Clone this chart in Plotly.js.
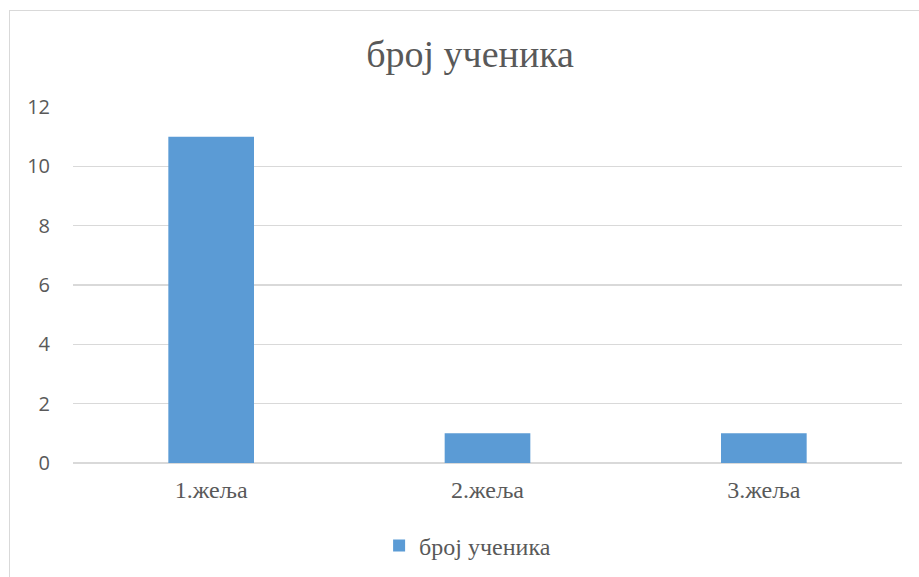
<!DOCTYPE html>
<html>
<head>
<meta charset="utf-8">
<script src="https://cdn.plot.ly/plotly-3.0.1.min.js"></script>
<style>
html,body{margin:0;padding:0;background:#fff;}
#wrap{position:relative;width:919px;height:577px;overflow:hidden;}
#chart{position:absolute;left:0;top:0;width:919px;height:577px;}
#frame{position:absolute;left:9px;top:10px;width:940px;height:600px;border-left:1px solid #d9d9d9;border-top:1px solid #d9d9d9;pointer-events:none;}
</style>
</head>
<body>
<div id="wrap"><div id="chart"></div><div id="frame"></div></div>
<script>
const categories = ["1.жеља", "2.жеља", "3.жеља"];
const values = [11, 1, 1];
const seriesName = "број ученика";
const yTicks = [0, 2, 4, 6, 8, 10, 12];

const SERIF = "Liberation Serif";
const SANS = "Open Sans";

const trace = {
  type: "bar",
  x: categories,
  y: values,
  name: seriesName,
  marker: {color: "#5B9BD5"},
  showlegend: true,
  hoverinfo: "x+y"
};

const layout = {
  width: 919, height: 577,
  margin: {l: 73, r: 17, t: 107, b: 114, autoexpand: false},
  paper_bgcolor: "#ffffff",
  plot_bgcolor: "#ffffff",
  bargap: 0.69,
  title: {
    text: "број ученика",
    font: {family: SERIF, size: 38, color: "#595959"},
    x: 0.479, xanchor: "center", xref: "paper",
    y: 53, yref: "container", yanchor: "middle"
  },
  xaxis: {
    type: "category",
    automargin: false,
    showgrid: false,
    zeroline: false,
    showline: false,
    ticks: "",
    tickfont: {family: SERIF, size: 24, color: "#595959"},
    ticklabelstandoff: 10
  },
  yaxis: {
    range: [0, 12],
    automargin: false,
    tickvals: yTicks,
    ticktext: yTicks.map(String),
    showgrid: true,
    gridcolor: "#d9d9d9",
    gridwidth: 1.5,
    zeroline: true,
    zerolinecolor: "#d9d9d9",
    zerolinewidth: 1.5,
    showline: false,
    ticks: "",
    tickfont: {family: SANS, size: 20, color: "#595959"},
    ticklabelstandoff: 22
  },
  legend: {
    orientation: "h",
    x: 0.476, xanchor: "center",
    y: -0.233, yanchor: "middle",
    font: {family: SERIF, size: 24, color: "#595959"},
    itemwidth: 30
  },
  showlegend: true
};

Plotly.newPlot("chart", [trace], layout, {displayModeBar: false, staticPlot: true});
</script>
</body>
</html>
